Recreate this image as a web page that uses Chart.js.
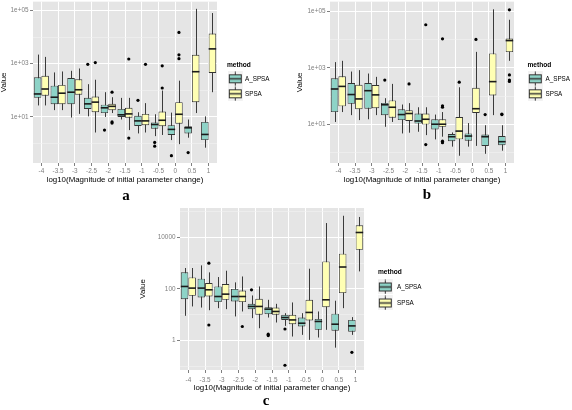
<!DOCTYPE html>
<html>
<head>
<meta charset="utf-8">
<script src="https://cdn.jsdelivr.net/npm/chart.js@4.4.1/dist/chart.umd.min.js"></script>
<style>
  html, body { margin: 0; padding: 0; background: #fff; }
  body { width: 572px; height: 410px; position: relative; overflow: hidden; }
  canvas { position: absolute; }
  .tag { position: absolute; font: bold 15px "Liberation Serif", "Times New Roman", serif; transform: translate(-50%, -50%); color: #000; }
</style>
</head>
<body>
<canvas id="chartA" width="285" height="186" style="left:0;top:0"></canvas>
<canvas id="chartB" width="287" height="186" style="left:285px;top:0"></canvas>
<canvas id="chartC" width="310" height="194" style="left:130px;top:200px"></canvas>
<div class="tag" style="left:126px;top:195px">a</div>
<div class="tag" style="left:427px;top:194px">b</div>
<div class="tag" style="left:266px;top:400px">c</div>
<script>
const categories = ['-4', '-3.5', '-3', '-2.5', '-2', '-1.5', '-1', '-0.5', '0', '0.5', '1'];
const methods = ['A_SPSA', 'SPSA'];
const methodColors = ['#8DD3C7', '#FFFFB3'];

// each row: [lower whisker, q1, median, q3, upper whisker]
const boxA_aspsa = [[27,52,73,310,2200],[18,30,55,150,470],[9.5,30,85,290,540],[10.5,20,31,52,170],[10,14,22,29,85],[8,10,12,20,52],[2.4,4.6,7.1,11,15],[1.9,3.6,5.2,6.2,12.6],[1.35,2.1,3.4,4.9,14.5],[1.66,2.4,3.9,4.5,8],[0.7,1.35,2.2,6.5,10.5]];
const boxA_spsa = [[27,63,112,350,1800],[18,30,78,160,510],[13,68,105,260,660],[2.6,15,36,58,250],[14,18,25,31,55],[3.2,9.4,13,22,52],[2.6,4.9,7.1,13,33],[2.1,4.5,7.5,16,98],[0.95,5.6,12.6,36,230],[14,36,500,2150,115000],[85,450,3600,13500,80000]];
const outA_aspsa = [[],[],[],[950],[3.2],[],[42],[1.1,0.8],[0.35],[0.46],[]];
const outA_spsa = [[],[],[],[1100],[85,6.5,5.9],[1500,1.6],[950],[830,122],[15000,2150,1550],[],[]];

const boxB_aspsa = [[12,27,178,425,1600],[21,53,113,290,740],[15,35.5,155,290,630],[8.1,21,49,57,84],[4.7,14,22,34,50],[5.4,10.5,13,24,40],[2.9,6.5,10,15,22],[1.6,2.5,3.6,4.5,5.1],[1.6,2.6,3.8,4.7,11],[0.89,1.7,3.6,4.3,9.2],[1.15,1.8,2.4,3.8,9.2]];
const boxB_spsa = [[27,43,220,500,1780],[14,34,79,250,830],[21,37,110,245,480],[12,17,40,70,270],[5,13,24,31,56],[4.1,9.7,15,24,40],[3.6,8.1,10,15,27],[0.76,2.9,5.7,18,205],[1.7,25,35.5,195,3700],[21,105,325,3250,120000],[1780,3650,9300,11000,51000]];
const outB_aspsa = [[],[],[],[370],[],[],[],[],[],[22],[23,22]];
const outB_spsa = [[],[],[],[],[270],[34000,1.9],[10700,45,40,2.5,2.2],[310],[10200],[],[115000,560,370,330]];

const boxC_aspsa = [[9.1,40,125,440,650],[19,47,108,250,820],[18,31,51,125,290],[8.6,33,51,100,180],[7.4,16.5,21,26.5,56],[7.8,10.5,16.5,19.6,38],[3.7,6.3,7.8,10,11.5],[1.66,3.5,4.7,7.8,11.5],[1.31,2.6,5.5,6.9,13.4],[0.53,2.4,4.3,11,35],[1.66,2.2,3.7,6.3,8.1]];
const boxC_spsa = [[21,54,108,280,650],[15,51,93,170,440],[16.5,38,63,155,510],[13.4,31,51,87,305],[3,10,21,41.5,125],[5,10,13.4,19,26.5],[1.43,4.3,6.3,10,30],[1.06,6,12.3,38,610],[2.6,19.6,38,1170,36000],[18,69,710,2340,69000],[480,3300,15500,29500,62000]];
const outC_aspsa = [[],[],[],[],[93],[1.76,1.56],[2.8,0.11],[],[],[],[0.35]];
const outC_spsa = [[],[1000,4],[],[3.5],[],[],[],[],[],[],[]];

// y ticks: labelled majors and unlabelled minor grid lines
const majorAB = [10, 1000, 100000];
const minorAB = [1, 100, 10000];
const labelsAB = ['1e+01', '1e+03', '1e+05'];
const majorC = [1, 100, 10000];
const minorC = [0.1, 10, 1000, 100000];
const labelsC = ['1', '100', '10000'];

const FONT = '"Liberation Sans", Arial, Helvetica, sans-serif';
const LEGEND_FONT = 6.3;

// key glyph drawn on the left of a wider transparent image so it can sit left of the item origin
function legendKey(fill, width) {
  const c = document.createElement('canvas');
  c.width = width;
  c.height = 15;
  const g = c.getContext('2d');
  g.fillStyle = '#F2F2F2';
  g.fillRect(0, 0, 15, 15);
  g.strokeStyle = '#333333';
  g.lineWidth = 1;
  g.beginPath();
  g.moveTo(7.5, 0.5);
  g.lineTo(7.5, 14.5);
  g.stroke();
  g.fillStyle = fill;
  g.fillRect(1.5, 3.5, 12, 8);
  g.strokeRect(1.5, 3.5, 12, 8);
  g.lineWidth = 1.5;
  g.beginPath();
  g.moveTo(1.5, 7.5);
  g.lineTo(13.5, 7.5);
  g.stroke();
  return c;
}

const boxplotParts = {
  id: 'boxplotParts',
  afterLayout(chart, args, opts) {
    // leave a gap between panel and legend, as ggplot does
    chart.legend.left += opts.legendShift;
    chart.legend.right += opts.legendShift;
  },
  beforeDraw(chart) {
    const {ctx, chartArea: a} = chart;
    ctx.save();
    ctx.fillStyle = '#E5E5E5';
    ctx.fillRect(a.left, a.top, a.width, a.height);
    ctx.restore();
  },
  beforeDatasetsDraw(chart) {
    const {ctx} = chart;
    const y = chart.scales.y;
    ctx.save();
    ctx.strokeStyle = '#3a3a3a';
    ctx.lineWidth = 1;
    chart.data.datasets.forEach((ds, di) => {
      chart.getDatasetMeta(di).data.forEach((bar, i) => {
        const s = ds.stats[i];
        const x = Math.round(bar.x) + 0.5;
        ctx.beginPath();
        ctx.moveTo(x, y.getPixelForValue(s[0]));
        ctx.lineTo(x, y.getPixelForValue(s[4]));
        ctx.stroke();
      });
    });
    ctx.restore();
  },
  afterDatasetsDraw(chart) {
    const {ctx} = chart;
    const y = chart.scales.y;
    ctx.save();
    chart.data.datasets.forEach((ds, di) => {
      chart.getDatasetMeta(di).data.forEach((bar, i) => {
        const s = ds.stats[i];
        const py = y.getPixelForValue(s[2]);
        ctx.strokeStyle = '#1a1a1a';
        ctx.lineWidth = 1.6;
        ctx.beginPath();
        ctx.moveTo(bar.x - bar.width / 2, py);
        ctx.lineTo(bar.x + bar.width / 2, py);
        ctx.stroke();
        ctx.fillStyle = '#000';
        ds.outliers[i].forEach(v => {
          ctx.beginPath();
          ctx.arc(bar.x, y.getPixelForValue(v), 1.6, 0, Math.PI * 2);
          ctx.fill();
        });
      });
    });
    ctx.restore();
  }
};

function makePanel(id, p) {
  // key left and text left are given relative to the legend title
  const pw = p.textDx - p.legendPad - LEGEND_FONT / 2;
  const imgW = Math.round(pw - 2 * (p.keyDx - p.legendPad));
  const keys = methodColors.map(c => legendKey(c, imgW));
  const tickSet = p.major.map(v => ({value: v})).concat(p.minor.map(v => ({value: v, minor: true})));
  const chart = new Chart(document.getElementById(id), {
    type: 'bar',
    data: {
      labels: categories,
      datasets: [
        {label: methods[0], data: p.boxes[0].map(r => [r[1], r[3]]), stats: p.boxes[0], outliers: p.outs[0],
         backgroundColor: methodColors[0], borderColor: '#333333', borderWidth: 0.9, borderSkipped: false},
        {label: methods[1], data: p.boxes[1].map(r => [r[1], r[3]]), stats: p.boxes[1], outliers: p.outs[1],
         backgroundColor: methodColors[1], borderColor: '#333333', borderWidth: 0.9, borderSkipped: false}
      ]
    },
    options: {
      responsive: false,
      animation: false,
      events: [],
      categoryPercentage: 0.9,
      barPercentage: 1,
      layout: {padding: {top: p.top, right: 0, bottom: 0, left: 0}},
      scales: {
        x: {
          type: 'category',
          grid: {offset: false, color: '#FFFFFF', lineWidth: 1, tickColor: '#7F7F7F', tickLength: 3},
          border: {display: false},
          ticks: {color: '#7F7F7F', font: {family: FONT, size: 6.4}, padding: p.xTickPad, maxRotation: 0, autoSkip: false},
          title: {display: true, text: 'log10(Magnitude of initial parameter change)', color: '#000',
                  font: {family: FONT, size: 7.9, lineHeight: 1}, padding: {top: 0, bottom: 2}},
          afterFit: s => { s.height = p.xHeight; }
        },
        y: {
          type: 'logarithmic',
          min: p.min,
          max: p.max,
          afterBuildTicks: s => { s.ticks = tickSet.map(t => ({...t})); },
          grid: {
            color: c => (c.tick && c.tick.minor ? '#F2F2F2' : '#FFFFFF'),
            lineWidth: c => (c.tick && c.tick.minor ? 0.6 : 1),
            tickColor: c => (c.tick && c.tick.minor ? 'rgba(0,0,0,0)' : '#7F7F7F'),
            tickLength: 3
          },
          border: {display: false},
          ticks: {
            color: '#7F7F7F', font: {family: FONT, size: 6.4, lineHeight: 0.05}, padding: 1.5, autoSkip: false,
            callback: v => { const k = p.major.indexOf(v); return k < 0 ? '' : p.labels[k]; }
          },
          title: {display: true, text: 'Value', color: '#000', font: {family: FONT, size: 7.9, lineHeight: 1},
                  padding: {top: p.yTitlePad, bottom: 0}},
          afterFit: s => { s.width = p.yWidth; }
        }
      },
      plugins: {
        tooltip: {enabled: false},
        boxplotParts: {legendShift: p.legendShift},
        legend: {
          position: 'right',
          align: 'start',
          title: {display: true, text: 'method', color: '#000', position: 'start',
                  font: {family: FONT, size: 6.6, weight: 'bold', lineHeight: 1.2},
                  padding: {top: p.titleTop, bottom: p.titleBottom}},
          labels: {
            color: '#000',
            font: {family: FONT, size: LEGEND_FONT},
            usePointStyle: true,
            pointStyleWidth: pw,
            padding: p.legendPad,
            generateLabels: ch => ch.data.datasets.map((ds, i) => ({
              text: ds.label, datasetIndex: i, pointStyle: keys[i], hidden: false,
              fillStyle: 'rgba(0,0,0,0)', strokeStyle: 'rgba(0,0,0,0)', lineWidth: 0, fontColor: '#000'
            }))
          }
        }
      }
    },
    plugins: [boxplotParts]
  });
  // line the panel's right edge up with the reference
  chart.options.layout.padding.right = chart.chartArea.right - p.right;
  chart.update('none');
  return chart;
}

makePanel('chartA', {
  boxes: [boxA_aspsa, boxA_spsa], outs: [outA_aspsa, outA_spsa],
  major: majorAB, minor: minorAB, labels: labelsAB, min: 0.186, max: 214000,
  top: 0, right: 217, yWidth: 33, xHeight: 23, xTickPad: 1.5, yTitlePad: 0,
  legendShift: 10, keyDx: 1, textDx: 18, legendPad: 8.7, titleTop: 62, titleBottom: -3
});
makePanel('chartB', {
  boxes: [boxB_aspsa, boxB_spsa], outs: [outB_aspsa, outB_spsa],
  major: majorAB, minor: minorAB, labels: labelsAB, min: 0.42, max: 224000,
  top: 0, right: 229, yWidth: 45, xHeight: 23, xTickPad: 1.5, yTitlePad: 11,
  legendShift: 13.5, keyDx: 0.5, textDx: 18, legendPad: 8.7, titleTop: 62, titleBottom: -3
});
makePanel('chartC', {
  boxes: [boxC_aspsa, boxC_spsa], outs: [outC_aspsa, outC_spsa],
  major: majorC, minor: minorC, labels: labelsC, min: 0.072, max: 138000,
  top: 8, right: 234, yWidth: 50, xHeight: 24, xTickPad: 3.5, yTitlePad: 9,
  legendShift: 14, keyDx: 0, textDx: 19, legendPad: 9.7, titleTop: 60.7, titleBottom: -2.5
});
</script>
</body>
</html>
